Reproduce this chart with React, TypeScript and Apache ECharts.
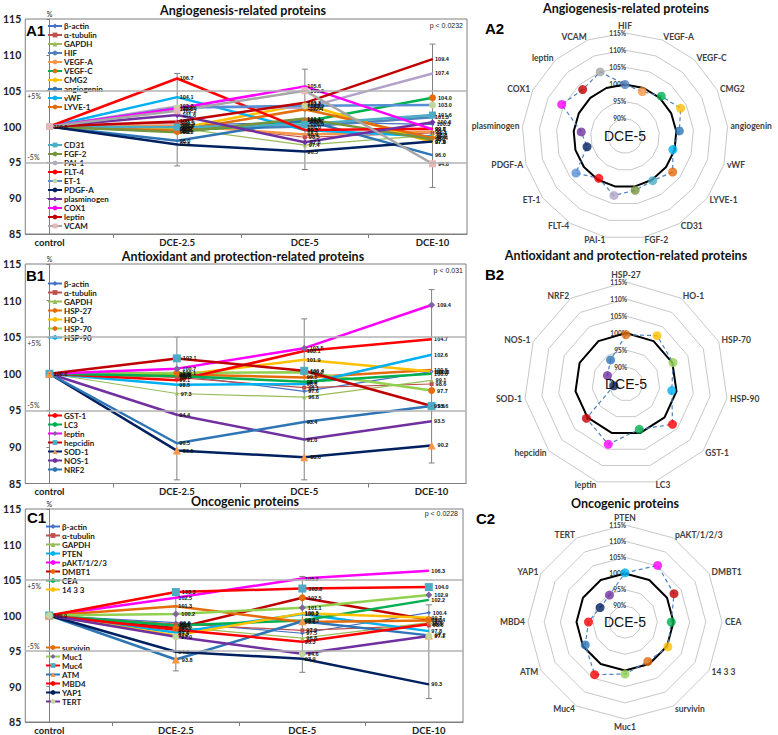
import React, { useEffect, useRef } from "react";
import * as echarts from "echarts";

const categories = ["control", "DCE-2.5", "DCE-5", "DCE-10"];
const ringTicks = [90, 95, 100, 105, 110, 115];

// ---------- A: Angiogenesis-related proteins ----------
const A_NAMES = ["β-actin", "α-tubulin", "GAPDH", "HIF", "VEGF-A", "VEGF-C", "CMG2", "angiogenin", "vWF", "LYVE-1",
  "CD31", "FGF-2", "PAI-1", "FLT-4", "ET-1", "PDGF-A", "plasminogen", "COX1", "leptin", "VCAM"];
const A_VALUES = [
  [100, 100.2, 100.6, 100.3],
  [100, 100.5, 98.5, 99.1],
  [100, 99.8, 97.4, 98.8],
  [100, 99.6, 100.0, 101.3],
  [100, 100.1, 98.9, 99.3],
  [100, 99.3, 100.7, 104.0],
  [100, 99.7, 103.1, 97.8],
  [100, 98.0, 100.9, 96.0],
  [100, 104.1, 99.5, 98.6],
  [100, 99.4, 102.4, 98.4],
  [100, 99.9, 100.3, 101.6],
  [100, 99.2, 101.1, 98.2],
  [100, 102.8, 102.6, 107.4],
  [100, 106.7, 99.5, 99.7],
  [100, 102.6, 102.9, 103.0],
  [100, 97.5, 96.5, 97.9],
  [100, 101.6, 97.8, 100.6],
  [100, 102.5, 105.6, 99.6],
  [100, 100.7, 103.3, 109.4],
  [100, 102.2, 105.0, 94.8],
];
const A_ERR_LOW = [94.5, 94.0, 91.5];
const A_ERR_HIGH = [107.4, 108.0, 111.5];

// ---------- B: Antioxidant and protection-related proteins ----------
const B_NAMES = ["β-actin", "α-tubulin", "GAPDH", "HSP-27", "HO-1", "HSP-70", "HSP-90",
  "GST-1", "LC3", "leptin", "hepcidin", "SOD-1", "NOS-1", "NRF2"];
const B_VALUES = [
  [100, 99.8, 97.6, 100.3],
  [100, 99.5, 98.1, 98.6],
  [100, 97.3, 96.8, 99.1],
  [100, 99.9, 99.5, 100.5],
  [100, 99.8, 101.9, 100.3],
  [100, 100.1, 100.2, 97.7],
  [100, 98.5, 98.6, 102.6],
  [100, 99.1, 103.1, 104.7],
  [100, 99.7, 98.9, 100.0],
  [100, 100.7, 103.5, 109.4],
  [100, 102.1, 100.4, 95.6],
  [100, 89.5, 88.6, 90.2],
  [100, 94.4, 91.0, 93.5],
  [100, 90.5, 93.4, 95.6],
];
const B_ERR_LOW = [85.5, 85.5, 87.8];
const B_ERR_HIGH = [105.0, 107.5, 111.5];

// ---------- C: Oncogenic proteins ----------
const C_NAMES = ["β-actin", "α-tubulin", "GAPDH", "PTEN", "pAKT/1/2/3", "DMBT1", "CEA", "14 3 3",
  "survivin", "Muc1", "Muc4", "ATM", "MBD4", "YAP1", "TERT"];
const C_VALUES = [
  [100, 99.0, 97.5, 100.4],
  [100, 98.8, 97.9, 98.6],
  [100, 98.4, 96.8, 99.0],
  [100, 97.6, 100.2, 97.8],
  [100, 102.5, 105.2, 106.3],
  [100, 98.2, 102.5, 99.4],
  [100, 98.6, 99.3, 102.2],
  [100, 97.2, 100.3, 99.7],
  [100, 101.3, 99.1, 99.3],
  [100, 100.2, 101.1, 102.9],
  [100, 103.3, 103.8, 104.0],
  [100, 93.8, 99.2, 97.2],
  [100, 98.0, 96.3, 98.8],
  [100, 94.9, 93.9, 90.3],
  [100, 97.0, 94.6, 97.1],
];
const C_ERR_LOW = [92.2, 92.0, 88.3];
const C_ERR_HIGH = [103.3, 105.5, 101.5];

// styles: [lineColor, lineWidth, symbol, symbolSize, markerColor]
const A_STYLES: any[] = [
  ["#4472C4", 1.2, "diamond", 4], ["#C0504D", 1.2, "rect", 4], ["#9BBB59", 1.2, "triangle", 4],
  ["#4F81BD", 2.5], ["#F79646", 2.5], ["#00B050", 2.5, "circle", 7, "#E46C0A"], ["#FFC000", 2.5],
  ["#2E75B6", 2.5], ["#00B0F0", 2.5], ["#E46C0A", 2.5, "circle", 5],
  ["#4BACC6", 2.5, "rect", 7], ["#77933C", 2.5], ["#B3A2C7", 2.5], ["#FF0000", 2.5],
  ["#558ED5", 2.5, "circle", 7, "#C4D79B"], ["#002060", 2.5], ["#7030A0", 2.5, "diamond", 6],
  ["#FF00FF", 2.5], ["#C00000", 2.5], ["#A6A6A6", 2.5, "rect", 7, "#E6B9B8"],
];
const B_STYLES: any[] = [
  ["#4472C4", 1.2, "diamond", 4], ["#C0504D", 1.2, "rect", 4], ["#9BBB59", 1.2, "triangle", 4],
  ["#E46C0A", 2.5], ["#FFC000", 2.5], ["#92D050", 2.5, "circle", 7, "#E46C0A"], ["#00B0F0", 2.5],
  ["#FF0000", 2.5], ["#00B050", 2.5], ["#FF00FF", 2.5, "diamond", 7, "#8064A2"],
  ["#C00000", 2.5, "rect", 8, "#4BACC6"], ["#002060", 2.5, "triangle", 8, "#F79646"],
  ["#7030A0", 2.5], ["#2E75B6", 2.5],
];
const C_STYLES: any[] = [
  ["#4472C4", 1.2, "diamond", 4], ["#C0504D", 1.2, "rect", 4], ["#9BBB59", 1.2, "triangle", 4],
  ["#00B0F0", 2.5], ["#FF00FF", 2.5], ["#C00000", 2.5, "circle", 7, "#E46C0A"], ["#00B050", 2.5],
  ["#FFC000", 2.5], ["#E46C0A", 2.5], ["#92D050", 2.5, "diamond", 7, "#8064A2"],
  ["#FF0000", 2.5, "rect", 8, "#4BACC6"], ["#2E75B6", 2.5, "triangle", 8, "#F79646"],
  ["#FF0000", 2.5], ["#002060", 2.5], ["#7030A0", 2.5, "circle", 7, "#C4D79B"],
];

const PANELS = [
  {
    key: "A", names: A_NAMES, values: A_VALUES, styles: A_STYLES, errLow: A_ERR_LOW, errHigh: A_ERR_HIGH,
    grid: { left: 25, top: 19, width: 442, height: 215 }, legendLeft: 47, legendTops: [21.5, 140.5], split: 10,
    radar: { cx: 625, cy: 136, r: 103 }, title: "Angiogenesis-related proteins",
    t1: [243, 10], t2: [626, 8], l1: [26, 30], l2: [485, 28], p: "p < 0.0232", pPos: [463, 25],
  },
  {
    key: "B", names: B_NAMES, values: B_VALUES, styles: B_STYLES, errLow: B_ERR_LOW, errHigh: B_ERR_HIGH,
    grid: { left: 25, top: 264, width: 441, height: 219.5 }, legendLeft: 47, legendTops: [279, 411], split: 7,
    radar: { cx: 626, cy: 384, r: 102 }, title: "Antioxidant and protection-related proteins",
    t1: [243, 256], t2: [626, 255], l1: [26, 275], l2: [485, 274], p: "p < 0.031", pPos: [463, 270],
  },
  {
    key: "C", names: C_NAMES, values: C_VALUES, styles: C_STYLES, errLow: C_ERR_LOW, errHigh: C_ERR_HIGH,
    grid: { left: 25, top: 509, width: 438, height: 215 }, legendLeft: 45, legendTops: [522, 643], split: 8,
    radar: { cx: 625, cy: 622, r: 97 }, title: "Oncogenic proteins",
    t1: [245, 501], t2: [625, 503], l1: [27, 517], l2: [476, 518], p: "p < 0.0228", pPos: [458, 513],
  },
];

function buildOption() {
  const grid: any[] = [], xAxis: any[] = [], yAxis: any[] = [], series: any[] = [], legend: any[] = [];
  const radar: any[] = [], polar: any[] = [], angleAxis: any[] = [], radiusAxis: any[] = [], graphic: any[] = [];
  const font = "Lato";

  PANELS.forEach((P, pi) => {
    grid.push({ ...P.grid, show: true, borderColor: "#7f7f7f", borderWidth: 1, containLabel: false });
    xAxis.push({
      gridIndex: pi, type: "value", min: -0.19, max: 3.27,
      axisLine: { show: true, lineStyle: { color: "#7f7f7f" } },
      axisTick: { show: true, customValues: [0.5, 1.5, 2.5], length: 4, lineStyle: { color: "#7f7f7f" } },
      splitLine: { show: false },
      axisLabel: {
        customValues: [0, 1, 2, 3], formatter: (v: number) => categories[Math.round(v)],
        fontSize: 9.5, fontWeight: "bold", color: "#222", fontFamily: font, margin: 3,
      },
    });
    yAxis.push({
      gridIndex: pi, type: "value", min: 85, max: 115, interval: 5,
      name: "%", nameLocation: "end", nameGap: 2, nameTextStyle: { fontSize: 7, color: "#222", fontFamily: font },
      axisLine: { show: true, lineStyle: { color: "#7f7f7f" } },
      axisTick: { show: true, length: 3, lineStyle: { color: "#7f7f7f" } },
      splitLine: { show: false },
      axisLabel: { fontSize: 10.5, color: "#222", fontFamily: font, fontWeight: "bold", margin: 4 },
    });

    // error bars
    series.push({
      type: "custom", xAxisIndex: pi, yAxisIndex: pi, silent: true, z: 2,
      encode: { x: 0, y: [1, 2] },
      data: P.errLow.map((lo, i) => [i + 1, lo, P.errHigh[i]]),
      renderItem: (params: any, api: any) => {
        const x = api.value(0);
        const lo = api.coord([x, api.value(1)]);
        const hi = api.coord([x, api.value(2)]);
        const style = { stroke: "#808080", lineWidth: 1 };
        return {
          type: "group",
          children: [
            { type: "line", shape: { x1: lo[0], y1: lo[1], x2: hi[0], y2: hi[1] }, style },
            { type: "line", shape: { x1: lo[0] - 3, y1: lo[1], x2: lo[0] + 3, y2: lo[1] }, style },
            { type: "line", shape: { x1: hi[0] - 3, y1: hi[1], x2: hi[0] + 3, y2: hi[1] }, style },
          ],
        };
      },
    });

    P.names.forEach((name, i) => {
      const st = P.styles[i];
      const s: any = {
        type: "line", name: `${P.key}|${name}`, xAxisIndex: pi, yAxisIndex: pi, z: 3,
        data: P.values[i].map((v, j) => ({
          value: [j, v],
          label: { show: j > 0 || i === 0 },
        })),
        lineStyle: { color: st[0], width: st[1] },
        itemStyle: { color: st[4] || st[0] },
        symbol: st[2] || "circle", symbolSize: st[2] ? st[3] : 1, showSymbol: true,
        label: {
          show: true, position: "right", distance: 2, fontSize: 5.5, fontWeight: "bold", color: "#111",
          fontFamily: "Liberation Sans", formatter: (p: any) => Number(p.value[1]).toFixed(1),
        },
        emphasis: { disabled: true },
      };
      if (i === 0) {
        s.markLine = {
          silent: true, symbol: "none",
          lineStyle: { color: "#b3b3b3", width: 1.5, type: "solid" },
          label: { fontSize: 7, color: "#333", fontFamily: font },
          data: [
            { yAxis: 105, label: { formatter: "+5%", position: "insideStartBottom", distance: 2 } },
            { yAxis: 95, label: { formatter: "-5%", position: "insideStartTop", distance: 2 } },
          ],
        };
      }
      series.push(s);
    });

    const legendBase = {
      orient: "vertical", left: P.legendLeft, padding: 0, itemGap: 0, itemWidth: 14, itemHeight: 6,
      selectedMode: false, formatter: (n: string) => n.split("|")[1],
      textStyle: { fontSize: 8, fontWeight: "bold", color: "#222", lineHeight: 9, fontFamily: font, padding: [0, 0, 0, -3] },
    };
    legend.push({ ...legendBase, top: P.legendTops[0], data: P.names.slice(0, P.split).map((n) => `${P.key}|${n}`) });
    legend.push({ ...legendBase, top: P.legendTops[1], data: P.names.slice(P.split).map((n) => `${P.key}|${n}`) });

    // radar
    const rNames = P.names.slice(3);
    const rVals = P.values.slice(3).map((r) => r[2]);
    const rCols = P.styles.slice(3).map((s) => s[0]);
    const N = rNames.length;
    const order = [0, ...Array.from({ length: N - 1 }, (_, k) => N - 1 - k)];
    const { cx, cy, r } = P.radar;
    radar.push({
      center: [cx, cy], radius: r, shape: "polygon", splitNumber: 6, startAngle: 90,
      indicator: order.map((k) => ({ name: rNames[k], min: 85, max: 115 })),
      axisName: { color: "#404040", fontSize: 8.5, fontWeight: "bold", fontFamily: font },
      nameGap: 3,
      splitLine: { lineStyle: { color: "#c8c8c8", width: 1 } },
      splitArea: { show: false }, axisLine: { show: false }, axisTick: { show: false }, axisLabel: { show: false },
    });
    polar.push({ center: [cx, cy], radius: r });
    angleAxis.push({ polarIndex: pi, type: "value", min: 0, max: N, startAngle: 90, clockwise: true, show: false });
    radiusAxis.push({ polarIndex: pi, type: "value", min: 85, max: 115, show: false });

    series.push({
      type: "line", coordinateSystem: "polar", polarIndex: pi, symbol: "none", silent: true, z: 2,
      data: [...rNames.map((_, k) => [100, k]), [100, N]],
      lineStyle: { color: "#000", width: 2 },
    });
    series.push({
      type: "line", coordinateSystem: "polar", polarIndex: pi, symbol: "none", silent: true, z: 3,
      data: [...rVals.map((v, k) => [v, k]), [rVals[0], N]],
      lineStyle: { color: "#4F81BD", width: 1.2, type: [4, 3] },
    });
    series.push({
      type: "scatter", coordinateSystem: "polar", polarIndex: pi, symbolSize: 9, silent: true, z: 4,
      data: rVals.map((v, k) => ({ value: [v, k], itemStyle: { color: rCols[k] } })),
    });

    ringTicks.forEach((t) => {
      graphic.push({
        type: "text", z: 1, x: cx + 1, y: cy - (r * (t - 85)) / 30,
        style: { text: `${t}%`, fill: "#404040", font: "bold 6.5px Lato", textAlign: "right", textVerticalAlign: "middle" },
      });
    });
    graphic.push({
      type: "text", z: 100, x: cx, y: cy,
      style: { text: "DCE-5", fill: "#111", font: "14px 'Liberation Sans'", textAlign: "center", textVerticalAlign: "middle" },
    });

    // titles and labels
    graphic.push({ type: "text", x: P.t1[0], y: P.t1[1], style: { text: P.title, fill: "#111", font: "bold 12.5px Lato", textAlign: "center", textVerticalAlign: "middle" } });
    graphic.push({ type: "text", x: P.t2[0], y: P.t2[1], style: { text: P.title, fill: "#111", font: "bold 12.5px Lato", textAlign: "center", textVerticalAlign: "middle" } });
    graphic.push({ type: "text", z: 100, x: P.l1[0], y: P.l1[1], style: { text: `${P.key}1`, fill: "#000", font: "bold 15px 'Liberation Sans'", textAlign: "left", textVerticalAlign: "middle" } });
    graphic.push({ type: "text", x: P.l2[0], y: P.l2[1], style: { text: `${P.key}2`, fill: "#000", font: "bold 15px 'Liberation Sans'", textAlign: "left", textVerticalAlign: "middle" } });
    graphic.push({ type: "text", x: P.pPos[0], y: P.pPos[1], style: { text: P.p, fill: "#222", font: "7px 'Liberation Sans'", textAlign: "right", textVerticalAlign: "middle" } });
  });

  return {
    animation: false, backgroundColor: "#fff",
    textStyle: { fontFamily: "Lato" },
    grid, xAxis, yAxis, series, legend, radar, polar, angleAxis, radiusAxis, graphic,
  };
}

export default function App() {
  const ref = useRef<HTMLDivElement>(null);
  useEffect(() => {
    if (!ref.current) return;
    const chart = echarts.init(ref.current, null, { renderer: "svg" });
    chart.setOption(buildOption() as any);
    return () => chart.dispose();
  }, []);
  return <div ref={ref} style={{ position: "fixed", left: 0, top: 0, width: 778, height: 735, background: "#fff" }} />;
}
